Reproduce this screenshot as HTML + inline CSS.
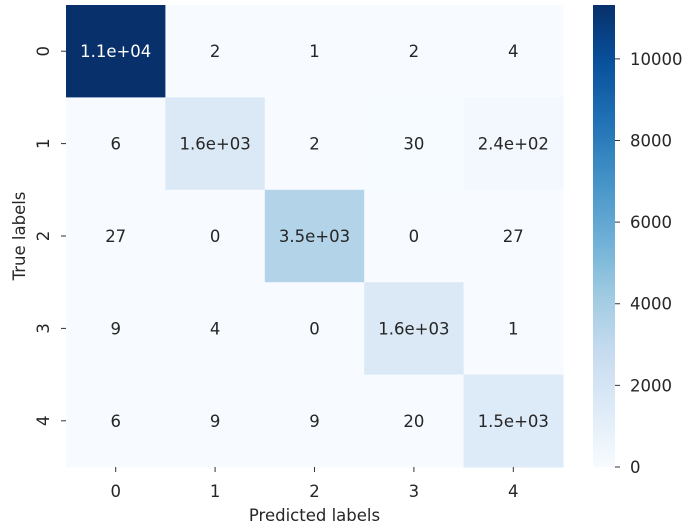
<!DOCTYPE html>
<html><head><meta charset="utf-8"><style>
html,body{margin:0;padding:0;background:#fff}
svg text{font-family:"DejaVu Sans","Liberation Sans",sans-serif;}
</style></head><body>
<svg id="chart" width="697" height="525" xmlns="http://www.w3.org/2000/svg">
<defs><linearGradient id="cbg" x1="0" y1="1" x2="0" y2="0"></linearGradient></defs>
<g id="cells"></g>
<g id="axes"></g>
<g id="cbar"></g>
</svg>
<script>
const xCategories = ["0","1","2","3","4"];
const yCategories = ["0","1","2","3","4"];
const row0 = [11320, 2, 1, 2, 4];
const row1 = [6, 1600, 2, 30, 240];
const row2 = [27, 0, 3500, 0, 27];
const row3 = [9, 4, 0, 1600, 1];
const row4 = [6, 9, 9, 20, 1500];
const cellLabels = [
 ["1.1e+04","2","1","2","4"],
 ["6","1.6e+03","2","30","2.4e+02"],
 ["27","0","3.5e+03","0","27"],
 ["9","4","0","1.6e+03","1"],
 ["6","9","9","20","1.5e+03"]];
const colorbarTicks = [0, 2000, 4000, 6000, 8000, 10000];
const vmin = 0, vmax = 11320;

const FS = 16.5;
const matrix = [row0,row1,row2,row3,row4];
const NS="http://www.w3.org/2000/svg";
const L=66, R=563, T=5, B=467;
const cw=(R-L)/xCategories.length, ch=(B-T)/yCategories.length;
const xPos=i=>L+i*cw, yPos=j=>T+j*ch;
const stops=["#f7fbff","#deebf7","#c6dbef","#9ecae1","#6baed6","#4292c6","#2171b5","#08519c","#08306b"];
function hex(h){return [1,3,5].map(k=>parseInt(h.substr(k,2),16));}
function cmap(v){let t=Math.max(0,Math.min(1,(v-vmin)/(vmax-vmin)))*(stops.length-1);
 let i=Math.min(Math.floor(t),stops.length-2),f=t-i;const a=hex(stops[i]),b=hex(stops[i+1]);
 const c=a.map((x,k)=>Math.round(x+(b[k]-x)*f));return {s:`rgb(${c})`,lum:(0.299*c[0]+0.587*c[1]+0.114*c[2])};}
function mk(tag,attrs,parent,txt){const e=document.createElementNS(NS,tag);for(const k in attrs)e.setAttribute(k,attrs[k]);if(txt!==undefined)e.textContent=txt;parent.appendChild(e);return e;}
const cells=document.getElementById('cells');
matrix.forEach((row,j)=>row.forEach((v,i)=>{
 const c=cmap(v);
 const r=mk('rect',{x:xPos(i),y:yPos(j),width:cw+0.5,height:ch+0.5,fill:c.s},cells);
 
 
 const t=mk('text',{x:xPos(i)+cw/2,y:yPos(j)+ch/2+6,'text-anchor':'middle','font-size':FS,fill:c.lum<128?'#fff':'#262626'},cells,cellLabels[j][i]);
 
 
}));
const ax=document.getElementById('axes');
xCategories.forEach((c,i)=>{const x=xPos(i)+cw/2;
 mk('line',{x1:x,x2:x,y1:B,y2:B+5,stroke:'#333'},ax);
 const t=mk('text',{x:x,y:B+30,'text-anchor':'middle','font-size':FS,fill:'#262626'},ax,c);
 
 });
yCategories.forEach((c,j)=>{const y=yPos(j)+ch/2;
 mk('line',{x1:L-5,x2:L,y1:y,y2:y,stroke:'#333'},ax);
 const t=mk('text',{x:0,y:0,'text-anchor':'middle','font-size':FS,fill:'#262626',transform:`translate(${L-17},${y}) rotate(-90)`},ax,c);
 
 });
const xt=mk('text',{x:(L+R)/2,y:521,'text-anchor':'middle','font-size':FS,fill:'#262626'},ax,'Predicted labels');


const yt=mk('text',{x:0,y:0,'text-anchor':'middle','font-size':FS,fill:'#262626',transform:`translate(25,${(T+B)/2}) rotate(-90)`},ax,'True labels');


const g=document.getElementById('cbg');
stops.forEach((s,k)=>mk('stop',{offset:k/(stops.length-1),'stop-color':s},g));
const cb=document.getElementById('cbar');
const CL=593, CR=615;
const cr=mk('rect',{x:CL,y:T,width:CR-CL,height:B-T,fill:'url(#cbg)'},cb);


const cy=v=>B-(v-vmin)/(vmax-vmin)*(B-T);
colorbarTicks.forEach(v=>{const y=cy(v);
 mk('line',{x1:CR,x2:CR+5,y1:y,y2:y,stroke:'#333'},cb);
 const t=mk('text',{x:CR+15,y:y+6,'font-size':FS,fill:'#262626'},cb,String(v));
 
 });
</script>
</body></html>
